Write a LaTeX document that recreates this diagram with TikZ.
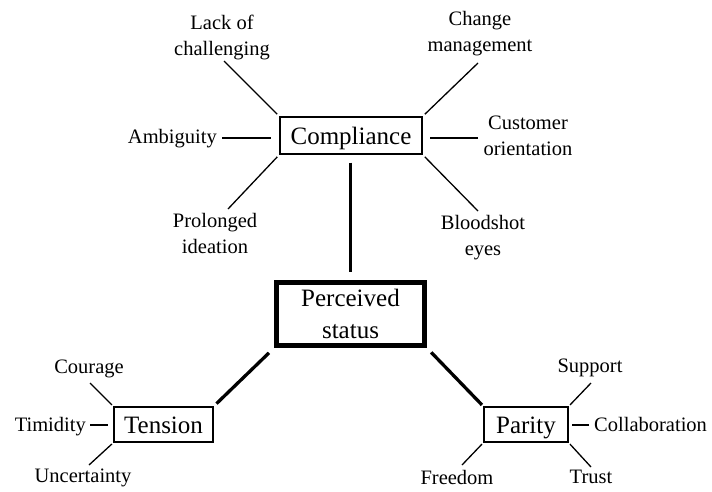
\documentclass[tikz,border=0pt]{standalone}
\usepackage{fontspec}
\setmainfont{Liberation Serif}
\usetikzlibrary{calc}
\begin{document}
\begin{tikzpicture}[x=1pt,y=-1pt,
  lbl/.style={font=\fontsize{20.5}{26}\selectfont, align=center, inner sep=0pt},
  hub/.style={draw, line width=1.3pt, font=\fontsize{25}{31}\selectfont, inner sep=0pt,
    text height=22pt, text depth=5pt},
  core/.style={draw, line width=5pt, font=\fontsize{25}{32}\selectfont, inner sep=0pt, align=center,
    minimum width=148pt, minimum height=63pt},
  spoke/.style={line width=1.3pt},
  trunk/.style={line width=3.3pt},
]
\useasboundingbox (0,0) rectangle (712,491);

% central concept and its three groups
\node[core] (ps) at (350.5,314) {Perceived\\status};
\node[hub, minimum width=142pt, minimum height=37pt] (comp) at (351,135.5) {Compliance};
\node[hub, minimum width=99pt, minimum height=35pt] (ten) at (163.5,424.5) {Tension};
\node[hub, minimum width=84pt, minimum height=35pt] (par) at (526,424.5) {Parity};

\draw[trunk, shorten <=8pt, shorten >=8pt] (comp.south -| ps.north) -- (ps.north);
\draw[trunk, shorten <=4pt, shorten >=7pt] (ten.north east) -- (ps.south west);
\draw[trunk, shorten <=6pt, shorten >=2pt] (ps.south east) -- (par.north west);

% labels around Compliance
\node[lbl] (lack) at (222,37) {Lack of\\challenging};
\node[lbl] (chg) at (480,34) {Change\\management};
\node[lbl, anchor=base east] (amb) at (217,143) {Ambiguity};
\node[lbl] (cust) at (528,136) {Customer\\orientation};
\node[lbl] (prol) at (215,233) {Prolonged\\ideation};
\node[lbl] (blood) at (483,238) {Bloodshot\\eyes};

\coordinate (e-lack) at (224,61);
\coordinate (e-chg) at (478,63);
\coordinate (e-amb) at (222,138);
\coordinate (e-cust) at (478,138);
\coordinate (e-prol) at (228,209);
\coordinate (e-blood) at (478,211);

\draw[spoke, shorten <=3pt] (comp.north west) -- (e-lack);
\draw[spoke, shorten <=3pt] (comp.north east) -- (e-chg);
\draw[spoke, shorten >=8pt] (e-amb) -- (e-amb -| comp.west);
\draw[spoke, shorten >=7pt] (e-cust) -- (e-cust -| comp.east);
\draw[spoke, shorten <=3pt] (comp.south west) -- (e-prol);
\draw[spoke, shorten <=3pt] (comp.south east) -- (e-blood);

% labels around Tension
\node[lbl] (cour) at (89,369) {Courage};
\node[lbl, anchor=base east] (tim) at (86,431) {Timidity};
\node[lbl] (unc) at (83,478) {Uncertainty};

\coordinate (e-cour) at (90,383);
\coordinate (e-tim) at (90,425);
\coordinate (e-unc) at (89,465);

\draw[spoke, shorten <=2pt] (ten.north west) -- (e-cour);
\draw[spoke, shorten >=5pt] (e-tim) -- (e-tim -| ten.west);
\draw[spoke, shorten <=2pt] (ten.south west) -- (e-unc);

% labels around Parity
\node[lbl] (sup) at (590,368) {Support};
\node[lbl, anchor=base west] (coll) at (594,431) {Collaboration};
\node[lbl] (trust) at (591,477) {Trust};
\node[lbl] (free) at (457,477) {Freedom};

\coordinate (e-sup) at (591,383);
\coordinate (e-coll) at (589,425);
\coordinate (e-trust) at (591,467);
\coordinate (e-free) at (462,465);

\draw[spoke, shorten <=2pt] (par.north east) -- (e-sup);
\draw[spoke, shorten >=3pt] (e-coll) -- (e-coll -| par.east);
\draw[spoke, shorten <=2pt] (par.south east) -- (e-trust);
\draw[spoke, shorten <=2pt] (par.south west) -- (e-free);
\end{tikzpicture}
\end{document}
